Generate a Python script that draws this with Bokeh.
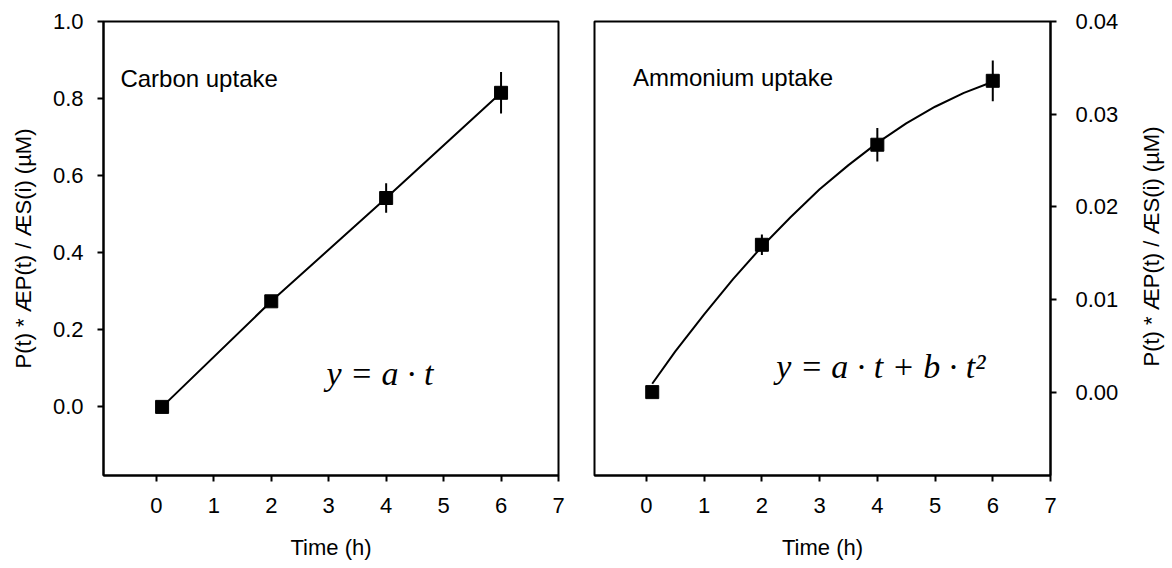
import math
from bokeh.plotting import figure
from bokeh.layouts import row
from bokeh.models import Range1d, FixedTicker, NumeralTickFormatter, Label
from bokeh.embed import file_html
from bokeh.resources import INLINE

# ---------------- data ----------------
time_h = [0.1, 2, 4, 6]
x_ticks = [0, 1, 2, 3, 4, 5, 6, 7]

carbon = [0.0, 0.274, 0.542, 0.815]
carbon_err = [0.0, 0.013, 0.038, 0.054]
carbon_ticks = [0.0, 0.2, 0.4, 0.6, 0.8, 1.0]

ammonium = [0.0, 0.0159, 0.0267, 0.0336]
ammonium_err = [0.0, 0.0011, 0.0018, 0.0022]
ammonium_ticks = [0.0, 0.01, 0.02, 0.03, 0.04]

# fitted curve of the ammonium panel
fit_t = [0.1, 0.5, 1, 1.5, 2, 2.5, 3, 3.5, 4, 4.5, 5, 5.5, 6]
fit_nh4 = [0.0009, 0.0044, 0.0084, 0.0122, 0.0157, 0.0189, 0.0219,
           0.0245, 0.0269, 0.0290, 0.0308, 0.0323, 0.0335]

y_label = "P(t) * ÆP(t) / ÆS(i) (µM)"
x_label = "Time (h)"

SANS = "Liberation Sans"
SERIF = "Liberation Serif"


def style(p, yfmt):
    p.background_fill_color = "white"
    p.border_fill_color = "white"
    p.outline_line_color = "black"
    p.outline_line_width = 2
    p.xgrid.visible = False
    p.ygrid.visible = False
    for ax in p.axis:
        ax.axis_line_color = "black"
        ax.axis_line_width = 2
        ax.major_tick_line_color = "black"
        ax.major_tick_line_width = 2
        ax.major_tick_in = 0
        ax.major_tick_out = 6
        ax.minor_tick_line_color = None
        ax.major_label_text_font = SANS
        ax.major_label_text_font_size = "22px"
        ax.major_label_text_color = "black"
        ax.axis_label_text_font = SANS
        ax.axis_label_text_font_size = "22px"
        ax.axis_label_text_font_style = "normal"
        ax.axis_label_text_color = "black"
    p.xaxis.ticker = FixedTicker(ticks=x_ticks)
    p.xaxis.major_label_standoff = 16
    p.xaxis.axis_label = x_label
    p.xaxis.axis_label_standoff = 19
    p.yaxis.formatter = NumeralTickFormatter(format=yfmt)


# ---------------- left panel: carbon ----------------
p1 = figure(output_backend="svg", toolbar_location=None,
            frame_width=455, frame_height=454,
            min_border_left=103, min_border_right=16,
            min_border_top=21, min_border_bottom=91,
            x_range=Range1d(-0.92, 7), y_range=Range1d(-0.178, 1.0))
style(p1, "0.0")
p1.yaxis.axis_label = y_label
p1.yaxis.ticker = FixedTicker(ticks=carbon_ticks)
p1.yaxis.major_label_standoff = 14
p1.yaxis.axis_label_standoff = 14

p1.line(time_h, carbon, line_color="black", line_width=2)
p1.segment(x0=time_h, y0=[v - e for v, e in zip(carbon, carbon_err)],
           x1=time_h, y1=[v + e for v, e in zip(carbon, carbon_err)],
           line_color="black", line_width=2)
p1.scatter(time_h, carbon, marker="square", size=13,
           fill_color="black", line_color="black")

p1.add_layout(Label(x=-0.626, y=0.853, text="Carbon uptake",
                    text_font=SANS, text_font_size="24px",
                    text_color="black",
                    text_baseline="alphabetic", text_align="left"))
p1.add_layout(Label(x=2.96, y=0.086, text="y = a · t",
                    text_font=SERIF, text_font_size="34px",
                    text_font_style="italic", text_color="black",
                    text_baseline="alphabetic", text_align="left"))

# ---------------- right panel: ammonium ----------------
p2 = figure(output_backend="svg", toolbar_location=None,
            frame_width=456, frame_height=454,
            min_border_left=20, min_border_right=74,
            min_border_top=21, min_border_bottom=91,
            x_range=Range1d(-0.9, 7), y_range=Range1d(-0.009, 0.04),
            y_axis_location="right")
style(p2, "0.00")
p2.yaxis.ticker = FixedTicker(ticks=ammonium_ticks)
p2.yaxis.major_label_standoff = 19

p2.line(fit_t, fit_nh4, line_color="black", line_width=2)
p2.segment(x0=time_h, y0=[v - e for v, e in zip(ammonium, ammonium_err)],
           x1=time_h, y1=[v + e for v, e in zip(ammonium, ammonium_err)],
           line_color="black", line_width=2)
p2.scatter(time_h, ammonium, marker="square", size=13,
           fill_color="black", line_color="black")

p2.add_layout(Label(x=-0.234, y=0.034, text="Ammonium uptake",
                    text_font=SANS, text_font_size="24px",
                    text_color="black",
                    text_baseline="alphabetic", text_align="left"))
p2.add_layout(Label(x=2.25, y=0.00273, text="y = a · t + b · t²",
                    text_font=SERIF, text_font_size="34px",
                    text_font_style="italic", text_color="black",
                    text_baseline="alphabetic", text_align="left"))

# ---------------- strip holding the right-hand axis title ----------------
p3 = figure(output_backend="svg", toolbar_location=None,
            frame_width=42, frame_height=454,
            min_border_left=0, min_border_right=0,
            min_border_top=21, min_border_bottom=91,
            x_range=Range1d(0, 42), y_range=Range1d(0, 454),
            x_axis_type=None, y_axis_type=None)
p3.outline_line_color = None
p3.background_fill_color = "white"
p3.border_fill_color = "white"
p3.xgrid.visible = False
p3.ygrid.visible = False
p3.add_layout(Label(x=27, y=229, text=y_label, angle=math.pi / 2,
                    text_font=SANS, text_font_size="22px",
                    text_color="black",
                    text_baseline="middle", text_align="center"))

layout = row(p1, p2, p3)
open("out.html", "w").write(file_html(layout, INLINE))
